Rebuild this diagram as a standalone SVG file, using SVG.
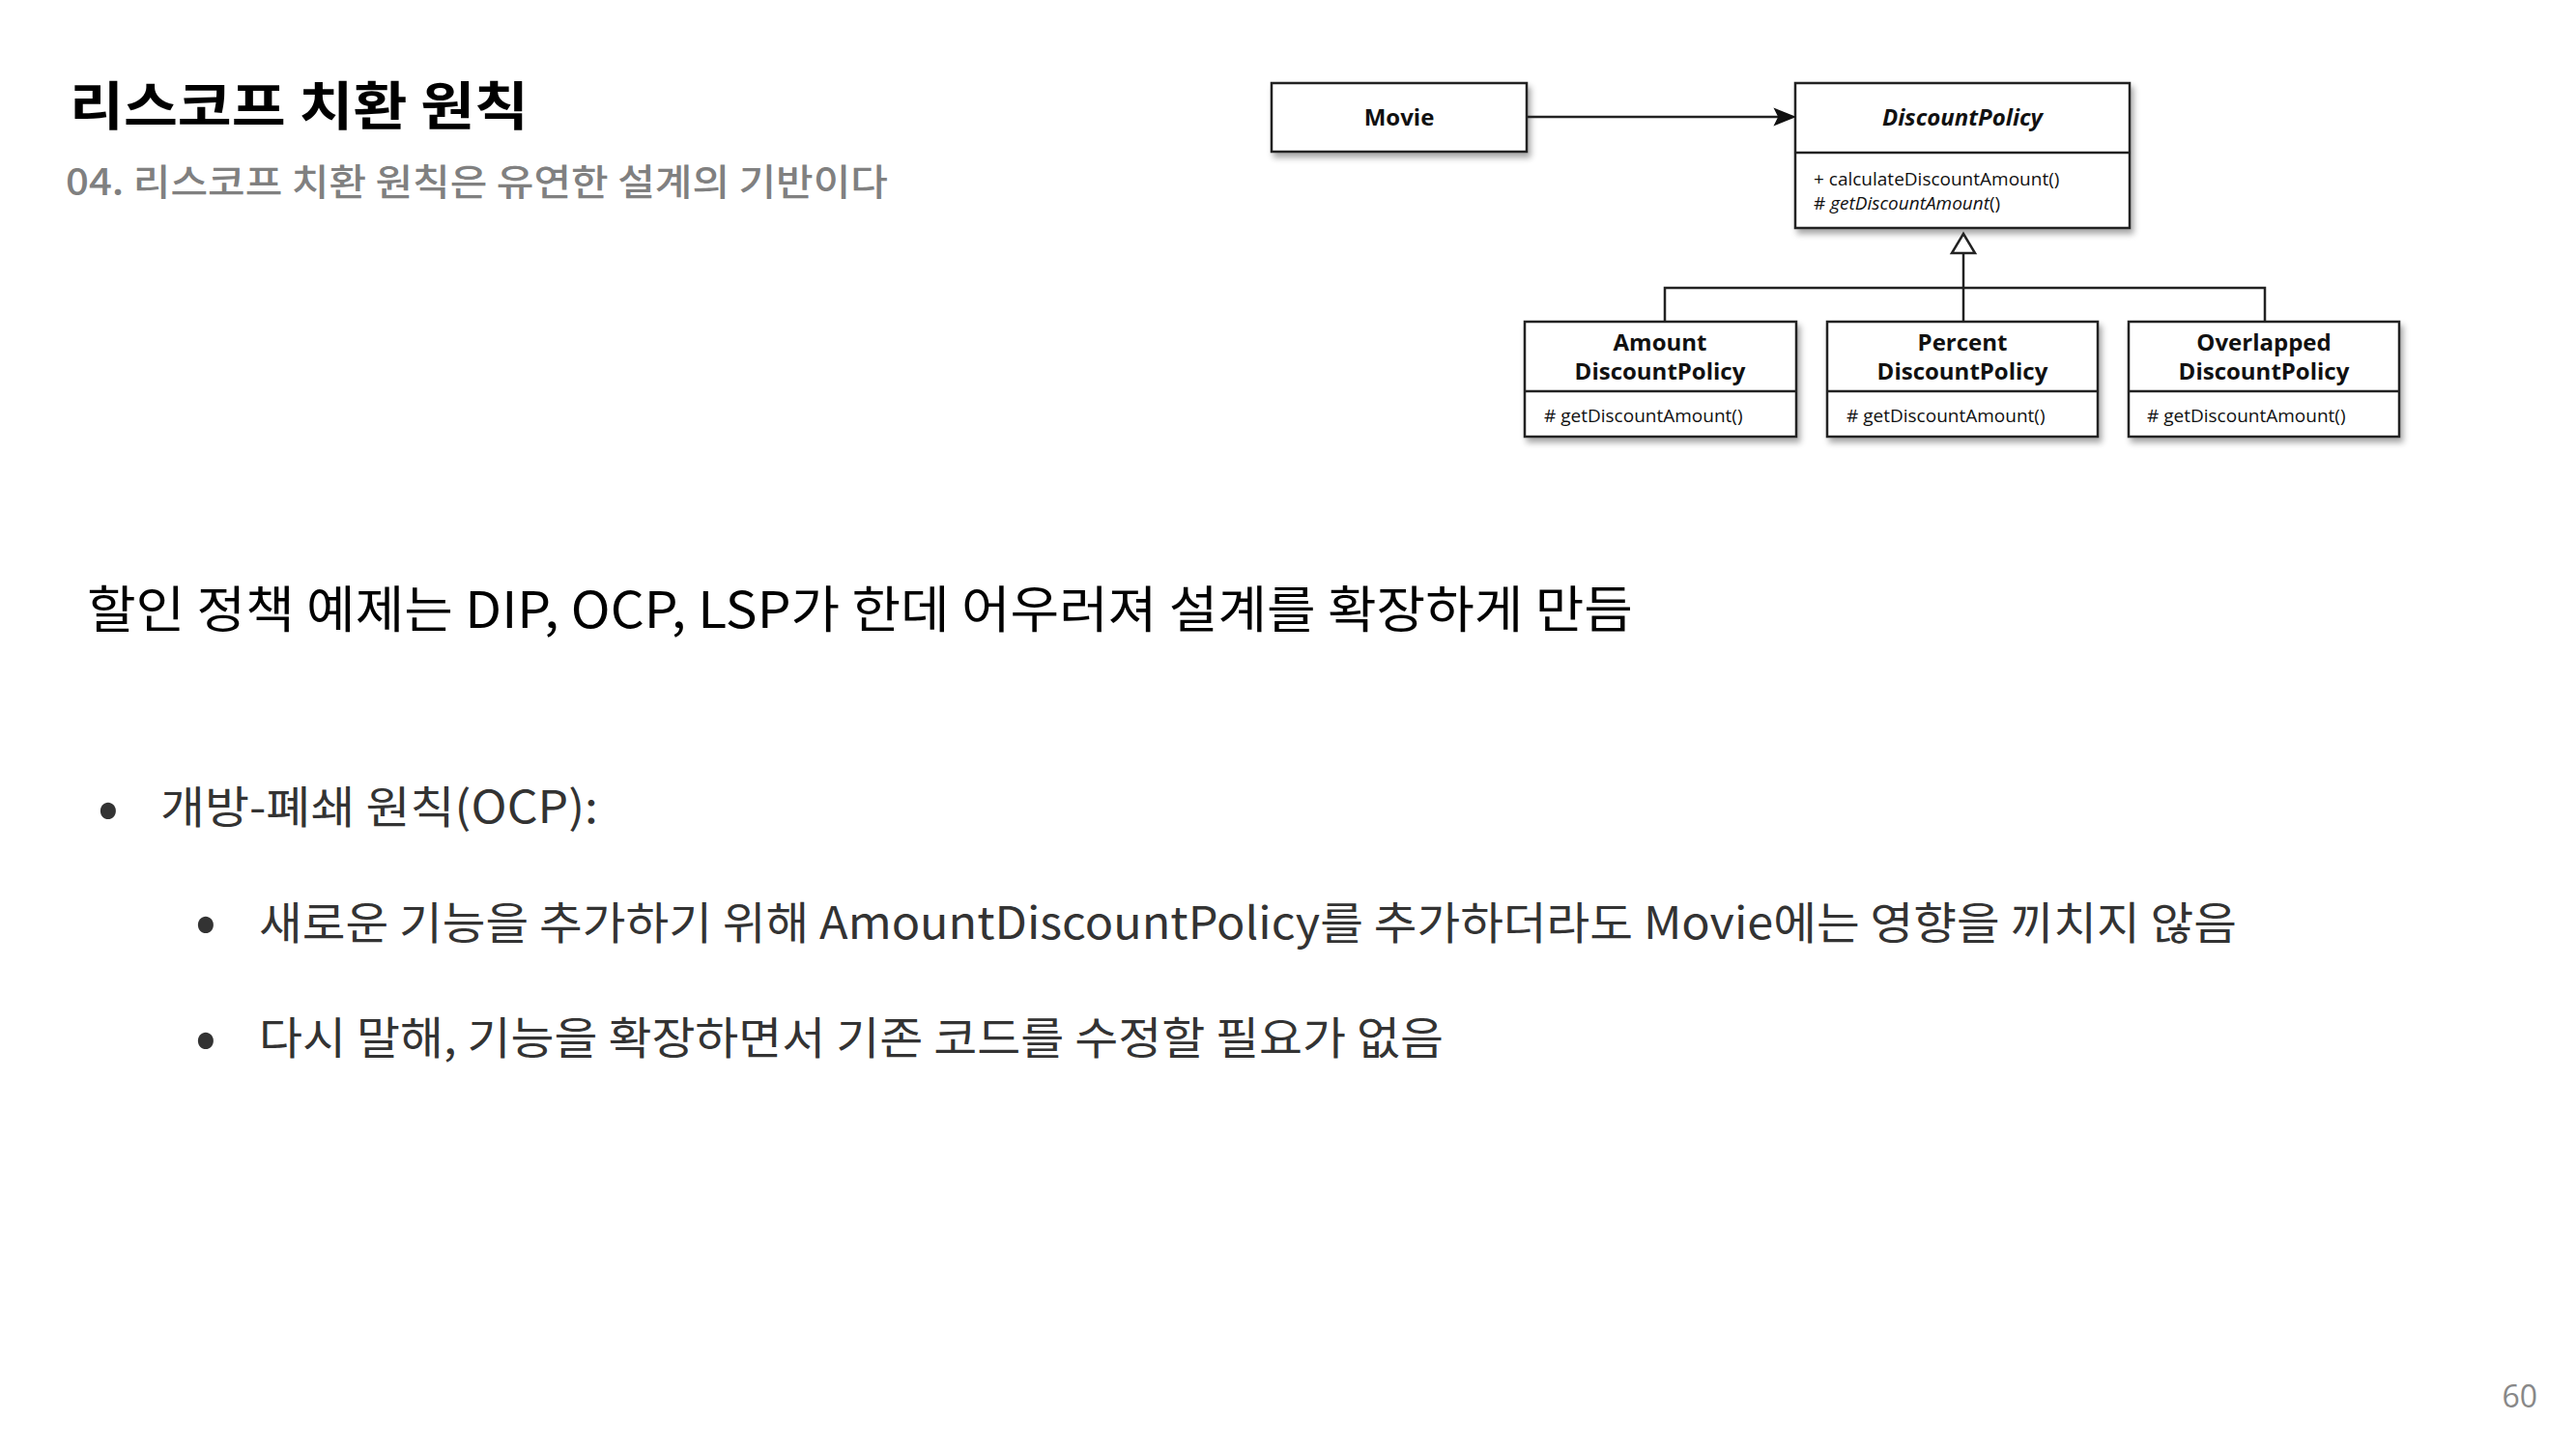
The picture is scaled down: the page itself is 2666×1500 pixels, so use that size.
<svg xmlns="http://www.w3.org/2000/svg" width="2666" height="1500" viewBox="0 0 2666 1500">
<defs>
<style>
.kr{font-family:"Noto Sans CJK KR","Noto Sans",sans-serif}
.box{fill:#fff;stroke:#222;stroke-width:2.5}
.div{stroke:#222;stroke-width:2.5}
.cls{font-family:"Open Sans","Noto Sans",sans-serif;font-weight:700;font-size:24px;fill:#111;text-anchor:middle}
.mth{font-family:"Open Sans","Noto Sans",sans-serif;font-size:19px;fill:#111}
.ln{fill:none;stroke:#222;stroke-width:2.5}
.bul{font-family:"Noto Sans CJK KR","Noto Sans",sans-serif;font-size:64px;fill:#333;text-anchor:middle;dominant-baseline:central}
</style>
<filter id="sh" x="-10%" y="-20%" width="130%" height="150%">
<feDropShadow dx="3" dy="5" stdDeviation="3" flood-color="#000" flood-opacity="0.35"/>
</filter>
</defs>
<rect width="2666" height="1500" fill="#fff"/>

<g id="title">
<text class="kr" x="72" y="130" font-size="54" font-weight="700" fill="#000" textLength="475" lengthAdjust="spacingAndGlyphs">리스코프 치환 원칙</text>
<text class="kr" x="68" y="202" font-size="38" font-weight="500" fill="#808080" textLength="851" lengthAdjust="spacingAndGlyphs">04. 리스코프 치환 원칙은 유연한 설계의 기반이다</text>
</g>

<g id="node-movie">
<rect class="box" x="1316" y="86" width="264" height="71" filter="url(#sh)"/>
<text class="cls" x="1448" y="130">Movie</text>
</g>

<g id="node-discountpolicy">
<rect class="box" x="1858" y="86" width="346" height="150" filter="url(#sh)"/>
<line class="div" x1="1858" y1="158" x2="2204" y2="158"/>
<text class="cls" x="2031" y="130" font-style="italic">DiscountPolicy</text>
<text class="mth" x="1877" y="192">+ calculateDiscountAmount()</text>
<text class="mth" x="1877" y="217"># <tspan font-style="italic">getDiscountAmount</tspan>()</text>
</g>

<g id="node-amount">
<rect class="box" x="1578" y="333" width="281" height="119" filter="url(#sh)"/>
<line class="div" x1="1578" y1="405" x2="1859" y2="405"/>
<text class="cls" x="1718" y="363">Amount</text>
<text class="cls" x="1718" y="393">DiscountPolicy</text>
<text class="mth" x="1598" y="437"># getDiscountAmount()</text>
</g>

<g id="node-percent">
<rect class="box" x="1891" y="333" width="280" height="119" filter="url(#sh)"/>
<line class="div" x1="1891" y1="405" x2="2171" y2="405"/>
<text class="cls" x="2031" y="363">Percent</text>
<text class="cls" x="2031" y="393">DiscountPolicy</text>
<text class="mth" x="1911" y="437"># getDiscountAmount()</text>
</g>

<g id="node-overlapped">
<rect class="box" x="2203" y="333" width="280" height="119" filter="url(#sh)"/>
<line class="div" x1="2203" y1="405" x2="2483" y2="405"/>
<text class="cls" x="2343" y="363">Overlapped</text>
<text class="cls" x="2343" y="393">DiscountPolicy</text>
<text class="mth" x="2222" y="437"># getDiscountAmount()</text>
</g>

<g id="connectors">
<line class="ln" x1="1580" y1="121" x2="1845" y2="121"/>
<path d="M1857,121 L1837,113 L1841,121 L1837,129 Z" fill="#111" stroke="#111" stroke-width="1.5" stroke-linejoin="miter"/>
<polyline class="ln" points="1723,333 1723,298 2344,298 2344,333"/>
<line class="ln" x1="2032" y1="333" x2="2032" y2="262"/>
<path d="M2032,242 L2044,262 L2020,262 Z" fill="#fff" stroke="#222" stroke-width="2.5"/>
</g>

<g id="body">
<text class="kr" x="90" y="650" font-size="52" fill="#000" textLength="1600" lengthAdjust="spacingAndGlyphs">할인 정책 예제는 DIP, OCP, LSP가 한데 어우러져 설계를 확장하게 만듬</text>
<text class="bul" x="112" y="830">•</text>
<text class="kr" x="166" y="852" font-size="46" fill="#333" textLength="453" lengthAdjust="spacingAndGlyphs">개방-폐쇄 원칙(OCP):</text>
<text class="bul" x="213" y="948">•</text>
<text class="kr" x="268" y="972" font-size="46" fill="#333" textLength="2047" lengthAdjust="spacingAndGlyphs">새로운 기능을 추가하기 위해 AmountDiscountPolicy를 추가하더라도 Movie에는 영향을 끼치지 않음</text>
<text class="bul" x="213" y="1068">•</text>
<text class="kr" x="268" y="1091" font-size="46" fill="#333" textLength="1226" lengthAdjust="spacingAndGlyphs">다시 말해, 기능을 확장하면서 기존 코드를 수정할 필요가 없음</text>
</g>

<g id="page-number">
<text x="2626" y="1457" font-family="'Open Sans','Noto Sans',sans-serif" font-size="32" fill="#888" text-anchor="end">60</text>
</g>
</svg>
